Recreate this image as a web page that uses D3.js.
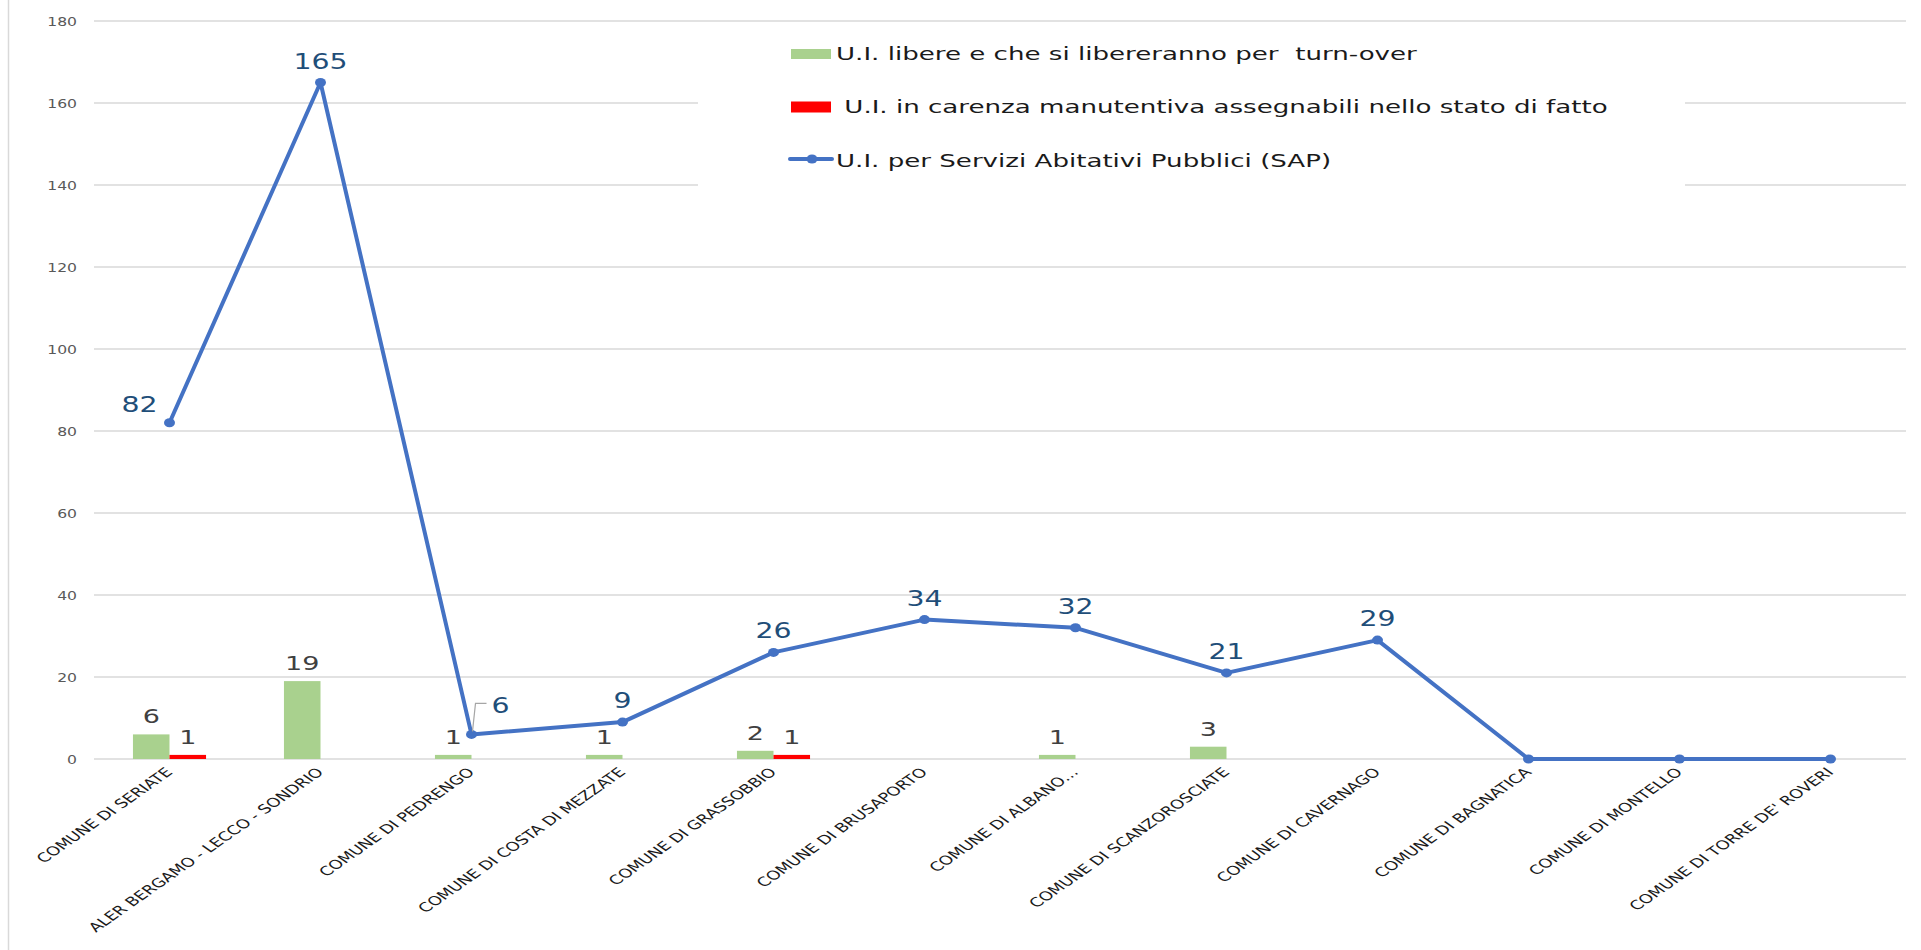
<!DOCTYPE html>
<html>
<head>
<meta charset="utf-8">
<script src="https://cdn.jsdelivr.net/npm/d3@7"></script>
<style>
  body { margin: 0; background: #fff; }
  svg { display: block; font-family: "DejaVu Sans", Verdana, sans-serif; }
</style>
</head>
<body>
<div id="chart"></div>
<script>
// categories and series
var categories = [
  "COMUNE DI SERIATE",
  "ALER BERGAMO - LECCO - SONDRIO",
  "COMUNE DI PEDRENGO",
  "COMUNE DI COSTA DI MEZZATE",
  "COMUNE DI GRASSOBBIO",
  "COMUNE DI BRUSAPORTO",
  "COMUNE DI ALBANO…",
  "COMUNE DI SCANZOROSCIATE",
  "COMUNE DI CAVERNAGO",
  "COMUNE DI BAGNATICA",
  "COMUNE DI MONTELLO",
  "COMUNE DI TORRE DE' ROVERI"
];
var libere = [6, 19, 1, 1, 2, 0, 1, 3, 0, 0, 0, 0];
var carenza = [1, 0, 0, 0, 1, 0, 0, 0, 0, 0, 0, 0];
var sap = [82, 165, 6, 9, 26, 34, 32, 21, 29, 0, 0, 0];
var yTicks = [0, 20, 40, 60, 80, 100, 120, 140, 160, 180];
var legendNames = [
  "U.I. libere e che si libereranno per  turn-over",
  " U.I. in carenza manutentiva assegnabili nello stato di fatto",
  "U.I. per Servizi Abitativi Pubblici (SAP)"
];

var W = 1921, H = 950;
var margin = {top: 21, right: 15, bottom: 191, left: 94},
    width = W - margin.left - margin.right,
    height = H - margin.top - margin.bottom;

// the original chart was stretched sideways, so text is widened too
var kx = 1.43;

var svg = d3.select("#chart").append("svg")
    .attr("width", W).attr("height", H);

// left border of the chart frame
svg.append("line")
    .attr("x1", 8.5).attr("x2", 8.5).attr("y1", 0).attr("y2", H)
    .style("stroke", "#d9d9d9").style("stroke-width", 1.5);

var g = svg.append("g")
    .attr("transform", "translate(" + margin.left + "," + margin.top + ")");

var x = d3.scaleBand().domain(categories).range([0, width]).padding(0);
var bw = x.bandwidth();
var x1 = d3.scaleBand().domain(["libere", "carenza"])
    .range([bw * 0.258, bw * 0.742]).padding(0);
var y = d3.scaleLinear().domain([0, 180]).range([height, 0]);

// gridlines
g.append("g").selectAll("line").data(yTicks).enter().append("line")
    .attr("x1", 0).attr("x2", width)
    .attr("y1", function(d) { return y(d); })
    .attr("y2", function(d) { return y(d); })
    .style("stroke", "#d9d9d9").style("stroke-width", 1.5);

// y axis labels
var yAxis = d3.axisLeft(y).tickValues(yTicks).tickSize(0);
g.append("g").call(yAxis)
    .call(function(s) { s.select(".domain").remove(); })
    .selectAll("text")
    .attr("x", 0).attr("dy", "0.35em")
    .attr("transform", "translate(-17,0) scale(1.25,1)")
    .style("font-size", "12.5px").style("fill", "#595959")
    .style("font-family", "DejaVu Sans, Verdana, sans-serif");

// x axis labels
var xAxis = d3.axisBottom(x).tickSize(0).tickPadding(0);
g.append("g").attr("transform", "translate(0," + height + ")").call(xAxis)
    .call(function(s) { s.select(".domain").remove(); })
    .selectAll("text")
    .style("text-anchor", "end")
    .style("font-size", "12.5px").style("fill", "#1a1a1a")
    .style("font-family", "DejaVu Sans, Verdana, sans-serif")
    .attr("dy", null).attr("y", 0).attr("x", 0)
    .attr("transform", "translate(4,14) scale(" + kx + ",1) rotate(-45)");

// bars
var series = [
  {key: "libere", values: libere, color: "#a9d18e"},
  {key: "carenza", values: carenza, color: "#ff0000"}
];
series.forEach(function(s) {
  g.append("g").selectAll("rect").data(s.values).enter().append("rect")
      .attr("x", function(d, i) { return x(categories[i]) + x1(s.key); })
      .attr("width", x1.bandwidth())
      .attr("y", function(d) { return y(d); })
      .attr("height", function(d) { return height - y(d); })
      .style("fill", s.color);
});

// bar labels (skip zeros)
series.forEach(function(s) {
  g.append("g").selectAll("text")
      .data(s.values.map(function(v, i) { return {v: v, i: i}; })
             .filter(function(d) { return d.v > 0; }))
      .enter().append("text")
      .attr("transform", function(d) {
        var px = x(categories[d.i]) + x1(s.key) + x1.bandwidth() / 2;
        return "translate(" + px + "," + (y(d.v) - 11) + ") scale(1.35,1)";
      })
      .attr("text-anchor", "middle")
      .style("font-size", "20px").style("fill", "#404040")
      .text(function(d) { return d.v; });
});

// line
var line = d3.line()
    .x(function(d, i) { return x(categories[i]) + bw / 2; })
    .y(function(d) { return y(d); });

g.append("path").datum(sap)
    .attr("d", line)
    .style("fill", "none").style("stroke", "#4472c4")
    .style("stroke-width", 4).style("stroke-linejoin", "round");

g.append("g").selectAll("ellipse").data(sap).enter().append("ellipse")
    .attr("cx", function(d, i) { return x(categories[i]) + bw / 2; })
    .attr("cy", function(d) { return y(d); })
    .attr("rx", 5.5).attr("ry", 4.5).style("fill", "#4472c4");

// line labels: first one sits left, third one right with a leader
var lineLabels = g.append("g");
sap.forEach(function(v, i) {
  if (v <= 0) return;
  var cx = x(categories[i]) + bw / 2, cy = y(v);
  var t = lineLabels.append("text")
      .style("font-size", "21px").style("fill", "#1f4e79")
      .text(v);
  var px, py, anchor;
  if (i === 0) {
    px = cx - 12; py = cy - 11; anchor = "end";
  } else if (i === 2) {
    px = cx + 20; py = cy - 21; anchor = "start";
    lineLabels.append("path")
        .attr("d", "M" + (cx + 1) + "," + (cy - 3) + "L" + (cx + 4) + "," + (cy - 31) + "H" + (cx + 15))
        .style("fill", "none").style("stroke", "#a6a6a6").style("stroke-width", 1.2);
  } else {
    px = cx; py = cy - 14; anchor = "middle";
  }
  t.attr("text-anchor", anchor)
   .attr("transform", "translate(" + px + "," + py + ") scale(1.35,1)");
});

// legend with white box covering grid
var legend = svg.append("g");
legend.append("rect")
    .attr("x", 698).attr("y", 28).attr("width", 987).attr("height", 170)
    .style("fill", "#fff");

var rows = [54, 107, 159];
var base = [60, 113, 166.5];
legend.append("rect").attr("x", 791).attr("y", rows[0] - 5)
    .attr("width", 40).attr("height", 10).style("fill", "#a9d18e");
legend.append("rect").attr("x", 791).attr("y", rows[1] - 5.5)
    .attr("width", 40).attr("height", 11).style("fill", "#ff0000");
legend.append("line").attr("x1", 790).attr("x2", 832)
    .attr("y1", rows[2]).attr("y2", rows[2])
    .style("stroke", "#4472c4").style("stroke-width", 4).style("stroke-linecap", "round");
legend.append("ellipse").attr("cx", 812).attr("cy", rows[2]).attr("rx", 5.5).attr("ry", 4.5)
    .style("fill", "#4472c4");

legend.selectAll("text.lg").data(legendNames).enter().append("text")
    .attr("class", "lg")
    .attr("transform", function(d, i) {
      return "translate(836," + base[i] + ") scale(1.45,1)";
    })
    .style("font-size", "18px").style("fill", "#1a1a1a")
    .style("white-space", "pre")
    .attr("xml:space", "preserve")
    .text(function(d) { return d; });
</script>
</body>
</html>
